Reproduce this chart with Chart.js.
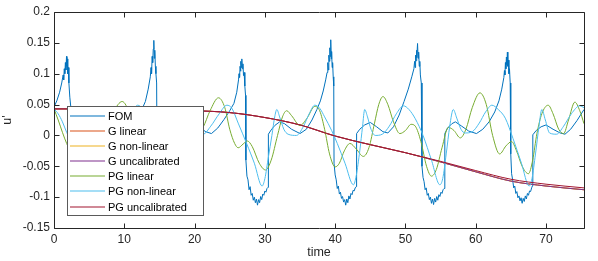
<!DOCTYPE html>
<html>
<head>
<meta charset="utf-8">
<script src="https://cdn.jsdelivr.net/npm/chart.js@4.4.0/dist/chart.umd.min.js"></script>
<style>
html, body { margin: 0; padding: 0; background: #fff; }
#wrap { width: 598px; height: 261px; }
</style>
</head>
<body>
<div id="wrap"><canvas id="chart" width="598" height="261"></canvas></div>
<script>
// axis ticks
const xTicks = [0, 10, 20, 30, 40, 50, 60, 70];
const xMax = 75.4;
const yTicks = [-0.15, -0.1, -0.05, 0, 0.05, 0.1, 0.15, 0.2];
const yTickLabels = ['-0.15', '-0.1', '-0.05', '0', '0.05', '0.1', '0.15', '0.2'];

const seriesNames = ['FOM', 'G linear', 'G non-linear', 'G uncalibrated', 'PG linear', 'PG non-linear', 'PG uncalibrated'];

// full order model, [time, u']
const fomData = [
  [0,0.046],[0.4,0.056],[0.8,0.07],[1.1,0.085],[1.3,0.098],[1.38,0.09],[1.46,0.108],[1.54,0.1],[1.62,0.118],[1.7,0.106],[1.78,0.128],[1.84,0.112],[1.9,0.124],[1.96,0.1],[2.04,0.11],[2.12,0.085],[2.25,0.062],[2.4,0.045],[2.5,-0.04],
  [2.7,-0.066],[2.9,-0.075],[3.1,-0.088],[3.3,-0.086],[3.5,-0.097],[3.7,-0.1],[3.9,-0.108],[4.1,-0.104],[4.3,-0.11],[4.5,-0.101],[4.7,-0.106],[4.9,-0.096],[5.1,-0.098],[5.3,-0.09],[5.5,-0.086],
  [5.6,0.0],[6.0,0.009],[6.6,0.017],[7.3,0.021],[8.0,0.017],[9.0,0.008],[10.1,0.003],[11.0,0.012],[11.8,0.028],[12.5,0.042],[13.0,0.055],[13.4,0.075],[13.7,0.095],
  [13.8,0.11],[13.88,0.1],[13.96,0.128],[14.04,0.118],[14.12,0.14],[14.2,0.154],[14.27,0.125],[14.34,0.138],[14.42,0.112],[14.5,0.1],[14.6,0.085],[14.66,-0.045],
  [14.85,-0.068],[15.05,-0.076],[15.25,-0.09],[15.45,-0.087],[15.65,-0.099],[15.85,-0.102],[16.05,-0.11],[16.25,-0.105],[16.45,-0.112],[16.65,-0.103],[16.85,-0.108],[17.05,-0.098],[17.25,-0.1],[17.45,-0.092],[17.7,-0.088],[17.9,-0.084],
  [18.0,0.0],[18.5,0.01],[19.2,0.018],[20.0,0.021],[20.8,0.012],[21.6,0.006],[22.4,0.003],[23.3,0.012],[24.2,0.026],[25.0,0.04],[25.6,0.052],[26.0,0.07],[26.25,0.09],
  [26.32,0.1],[26.4,0.094],[26.47,0.112],[26.54,0.104],[26.6,0.12],[26.66,0.11],[26.72,0.124],[26.8,0.108],[26.88,0.116],[26.96,0.097],[27.05,0.102],[27.15,0.08],[27.25,0.065],[27.3,-0.04],
  [27.45,-0.066],[27.6,-0.072],[27.75,-0.088],[27.9,-0.083],[28.05,-0.097],[28.2,-0.094],[28.35,-0.105],[28.5,-0.1],[28.65,-0.109],[28.8,-0.103],[28.95,-0.113],[29.1,-0.104],[29.25,-0.109],[29.4,-0.099],[29.55,-0.104],[29.7,-0.095],[29.85,-0.097],[30.0,-0.09],[30.15,-0.092],[30.3,-0.086],[30.45,-0.084],
  [30.5,0.002],[30.9,0.009],[31.4,0.016],[32.1,0.022],[32.8,0.019],[33.8,0.01],[35.0,0.003],[35.9,0.01],[36.7,0.025],[37.4,0.042],[37.9,0.056],[38.3,0.072],[38.65,0.09],[38.85,0.102],
  [38.95,0.118],[39.03,0.106],[39.1,0.13],[39.17,0.12],[39.24,0.142],[39.3,0.128],[39.37,0.155],[39.44,0.124],[39.5,0.136],[39.57,0.11],[39.64,0.118],[39.72,0.095],[39.8,0.08],[39.84,-0.045],
  [40.0,-0.064],[40.15,-0.072],[40.3,-0.086],[40.45,-0.082],[40.6,-0.095],[40.75,-0.092],[40.9,-0.102],[41.05,-0.099],[41.2,-0.108],[41.35,-0.104],[41.5,-0.113],[41.65,-0.103],[41.8,-0.109],[41.95,-0.098],[42.1,-0.103],[42.25,-0.094],[42.4,-0.096],[42.55,-0.089],[42.7,-0.09],[42.85,-0.085],[42.98,-0.083],
  [43.05,0.003],[43.5,0.01],[44.2,0.017],[45.0,0.021],[45.9,0.014],[46.8,0.006],[47.5,0.004],[48.3,0.014],[49.1,0.033],[49.8,0.055],[50.4,0.075],[50.9,0.095],[51.2,0.108],
  [51.3,0.12],[51.37,0.11],[51.44,0.13],[51.5,0.121],[51.57,0.138],[51.64,0.126],[51.72,0.149],[51.8,0.125],[51.88,0.135],[51.96,0.112],[52.04,0.12],[52.12,0.098],[52.25,0.085],[52.35,-0.05],
  [52.5,-0.068],[52.65,-0.075],[52.8,-0.088],[52.95,-0.085],[53.1,-0.097],[53.25,-0.094],[53.4,-0.104],[53.55,-0.1],[53.7,-0.11],[53.85,-0.103],[54.0,-0.112],[54.15,-0.102],[54.3,-0.108],[54.45,-0.099],[54.6,-0.105],[54.75,-0.096],[54.9,-0.099],[55.05,-0.092],[55.2,-0.094],[55.35,-0.088],[55.5,-0.086],
  [55.6,0.003],[56.0,0.012],[56.6,0.019],[57.1,0.022],[58.0,0.015],[59.0,0.007],[60.1,0.003],[61.0,0.01],[61.9,0.022],[62.7,0.038],[63.3,0.056],[63.7,0.075],[64.0,0.094],
  [64.08,0.105],[64.15,0.098],[64.22,0.118],[64.29,0.108],[64.36,0.127],[64.43,0.115],[64.5,0.135],[64.57,0.112],[64.64,0.122],[64.72,0.1],[64.8,0.108],[64.9,0.085],[64.98,-0.03],
  [65.1,-0.062],[65.25,-0.072],[65.4,-0.085],[65.55,-0.082],[65.7,-0.094],[65.85,-0.091],[66.0,-0.101],[66.15,-0.098],[66.3,-0.106],[66.45,-0.101],[66.6,-0.11],[66.75,-0.102],[66.9,-0.107],[67.05,-0.098],[67.2,-0.103],[67.35,-0.094],[67.5,-0.097],[67.65,-0.09],[67.8,-0.091],[67.95,-0.085],[68.05,-0.082],
  [68.12,0.001],[68.6,0.008],[69.3,0.014],[70.0,0.017],[71.0,0.01],[72.0,0.004],[72.7,0.002],[73.5,0.01],[74.4,0.024],[75.4,0.042]
];

// uncalibrated models (G linear / non-linear sit under G uncalibrated)
const uncTime = [0, 5, 10, 15, 20, 25, 30, 35, 40, 45, 50, 55, 60, 65, 70, 75.4];
const gLinear    = [0.043, 0.043, 0.042, 0.041, 0.040, 0.037, 0.029, 0.017, -0.001, -0.015, -0.028, -0.043, -0.059, -0.074, -0.082, -0.088];
const gNonLinear = [0.043, 0.043, 0.042, 0.041, 0.040, 0.037, 0.029, 0.017, -0.001, -0.015, -0.028, -0.043, -0.059, -0.074, -0.082, -0.088];
const gUncal     = [0.043, 0.043, 0.042, 0.041, 0.040, 0.037, 0.029, 0.017, -0.001, -0.015, -0.028, -0.043, -0.059, -0.074, -0.082, -0.088];
const pgUncal    = [0.043, 0.043, 0.042, 0.041, 0.040, 0.037, 0.029, 0.017, -0.001, -0.015, -0.028, -0.042, -0.057, -0.071, -0.079, -0.085];

const pgLinearData = [
  [0,0.043],[0.6,0.025],[1.2,0.005],[1.8,-0.013],[2.5,-0.03],[3.5,-0.05],[4.5,-0.055],[5.5,-0.035],[6.5,-0.005],[7.5,0.02],[8.5,0.04],[9.7,0.055],[10.8,0.035],
  [11.8,0.0],[12.8,-0.03],[13.8,-0.04],[14.8,-0.03],[15.8,-0.035],[16.8,-0.05],[17.8,-0.045],[18.8,-0.02],[19.8,0.0],[20.5,0.005],[21.2,0.013],[22.2,0.04],[23.4,0.061],
  [24.3,0.045],[25.0,0.01],[25.7,-0.013],[26.2,-0.02],[26.9,-0.014],[27.5,-0.009],[28.2,-0.018],[29.2,-0.045],[30.1,-0.056],[30.9,-0.04],[31.8,0.0],[32.5,0.03],[33.1,0.04],
  [33.8,0.032],[35.0,0.016],[36.0,0.028],[37.1,0.047],[37.8,0.04],[38.5,0.01],[39.2,-0.03],[40.0,-0.051],[40.6,-0.045],[41.3,-0.025],[42.1,-0.013],[43.0,-0.022],[44.0,-0.034],
  [44.8,-0.02],[45.6,0.02],[46.2,0.05],[46.8,0.063],[47.5,0.05],[48.3,0.022],[49.2,0.003],[50.0,0.008],[50.8,0.018],[51.4,0.015],[52.2,-0.01],[53.0,-0.05],[53.7,-0.066],
  [54.4,-0.055],[55.2,-0.02],[56.1,0.013],[56.9,0.008],[57.8,-0.004],[58.6,0.01],[59.5,0.045],[60.6,0.069],[61.5,0.05],[62.4,0.0],[63.4,-0.03],[64.3,-0.017],[65.1,-0.01],
  [65.8,-0.025],[66.6,-0.05],[67.5,-0.062],[68.1,-0.04],[68.7,0.003],[69.4,0.035],[70.3,0.049],[71.0,0.035],[71.8,0.01],[72.5,0.003],[73.2,0.025],[74.1,0.054],[74.8,0.04],[75.4,0.019]
];

const pgNonLinearData = [
  [0,0.043],[0.6,0.035],[1.2,0.022],[1.8,0.005],[2.5,-0.012],[3.5,-0.04],[4.5,-0.07],[5.0,-0.08],[5.4,-0.07],[5.8,-0.035],[6.2,0.005],[6.6,0.04],[6.9,0.03],[7.3,0.01],
  [7.9,0.0],[9.0,0.0],[10.0,0.015],[11.0,0.035],[11.9,0.049],[12.6,0.043],[13.5,0.025],[15.0,-0.01],[16.5,-0.05],[17.3,-0.08],[17.8,-0.06],[18.3,-0.02],[18.8,0.02],
  [19.2,0.042],[19.6,0.025],[20.2,0.006],[21.2,0.002],[22.3,0.015],[23.5,0.035],[24.6,0.049],[25.3,0.044],[26.2,0.02],[27.4,-0.013],[28.5,-0.045],[29.6,-0.082],[30.0,-0.07],
  [30.5,-0.035],[31.0,0.0],[31.4,0.03],[31.7,0.042],[32.1,0.03],[32.7,0.01],[33.3,0.002],[34.5,0.0],[35.5,0.015],[36.3,0.035],[37.1,0.049],[37.8,0.044],[38.5,0.03],
  [39.5,0.008],[40.3,-0.013],[41.4,-0.045],[42.6,-0.08],[43.0,-0.065],[43.5,-0.025],[43.9,0.015],[44.2,0.042],[44.6,0.03],[45.1,0.01],[45.7,0.0],[46.7,0.002],[47.7,0.015],
  [48.7,0.035],[49.7,0.048],[50.5,0.042],[51.4,0.027],[52.5,0.0],[53.7,-0.04],[54.9,-0.08],[55.3,-0.07],[55.8,-0.03],[56.3,0.015],[56.8,0.042],[57.3,0.028],[57.9,0.01],
  [58.5,0.004],[59.5,0.006],[60.5,0.02],[61.4,0.038],[62.3,0.049],[63.2,0.042],[64.2,0.028],[65.3,-0.005],[66.5,-0.045],[67.6,-0.082],[68.0,-0.07],[68.5,-0.03],[69.0,0.015],
  [69.4,0.042],[69.9,0.025],[70.5,0.004],[71.5,0.002],[72.5,0.015],[73.6,0.035],[74.8,0.048],[75.4,0.045]
];

const colors = ['#0072BD', '#D95319', '#EDB120', '#7E2F8E', '#77AC30', '#4DBEEE', '#A2142F'];
const axisColor = '#262626';
const fontFamily = '"Liberation Sans", Arial, Helvetica, sans-serif';

const pairs = arr => arr.map(p => ({ x: p[0], y: p[1] }));
const onTime = vals => vals.map((v, i) => ({ x: uncTime[i], y: v }));

const seriesData = [
  pairs(fomData),
  onTime(gLinear),
  onTime(gNonLinear),
  onTime(gUncal),
  pairs(pgLinearData),
  pairs(pgNonLinearData),
  onTime(pgUncal)
];

const datasets = seriesData.map((data, i) => ({
  label: seriesNames[i],
  data: data,
  borderColor: colors[i],
  backgroundColor: colors[i],
  borderWidth: 1,
  pointRadius: 0,
  fill: false,
  cubicInterpolationMode: i === 0 ? 'default' : 'monotone',
  tension: i === 0 ? 0 : 0.4,
  order: seriesNames.length - i   // later series drawn on top, like MATLAB
}));

// box, inward ticks and legend inside the axes
const matlabAxes = {
  id: 'matlabAxes',
  afterDraw(chart) {
    const { ctx, chartArea: a, scales } = chart;
    const L = Math.round(a.left) + 0.5, R = Math.round(a.right) + 0.5;
    const T = Math.round(a.top) + 0.5, B = Math.round(a.bottom) + 0.5;
    ctx.save();
    ctx.strokeStyle = axisColor;
    ctx.lineWidth = 1;
    ctx.beginPath();
    ctx.rect(L, T, R - L, B - T);
    scales.x.ticks.forEach(t => {
      const px = Math.round(scales.x.getPixelForValue(t.value)) + 0.5;
      ctx.moveTo(px, B); ctx.lineTo(px, B - 5);
      ctx.moveTo(px, T); ctx.lineTo(px, T + 5);
    });
    scales.y.ticks.forEach(t => {
      const py = Math.round(scales.y.getPixelForValue(t.value)) + 0.5;
      ctx.moveTo(L, py); ctx.lineTo(L + 5, py);
      ctx.moveTo(R, py); ctx.lineTo(R - 5, py);
    });
    ctx.stroke();

    // legend (southwest)
    const w = 136, h = 109;
    const lx = Math.round(a.left) + 13, ly = Math.round(a.bottom) - 13 - h;
    ctx.fillStyle = '#ffffff';
    ctx.fillRect(lx, ly, w, h);
    ctx.strokeStyle = '#5a5a5a';
    ctx.strokeRect(lx + 0.5, ly + 0.5, w, h);
    ctx.font = '11px ' + fontFamily;
    ctx.textBaseline = 'middle';
    ctx.textAlign = 'left';
    seriesNames.forEach((name, i) => {
      const y = Math.round(ly + 9.5 + i * 15.17);
      ctx.strokeStyle = colors[i];
      ctx.lineWidth = 1.2;
      ctx.beginPath();
      ctx.moveTo(lx + 3, y);
      ctx.lineTo(lx + 38, y);
      ctx.stroke();
      ctx.fillStyle = '#000000';
      ctx.fillText(name, lx + 41, y + 0.5);
    });
    ctx.restore();
  }
};

new Chart(document.getElementById('chart'), {
  type: 'line',
  data: { datasets: datasets },
  options: {
    responsive: false,
    animation: false,
    events: [],
    layout: { padding: { top: 12, right: 14, left: 0, bottom: 0 } },
    plugins: { legend: { display: false }, tooltip: { enabled: false } },
    scales: {
      x: {
        type: 'linear',
        min: 0,
        max: xMax,
        afterBuildTicks: s => { s.ticks = xTicks.map(v => ({ value: v })); },
        afterFit: s => { s.height = 33; },
        grid: { display: false, drawTicks: false },
        border: { display: false },
        ticks: { padding: 4, autoSkip: false, maxRotation: 0, color: axisColor, font: { family: fontFamily, size: 12 } },
        title: { display: true, text: 'time', color: axisColor, padding: { top: 0, bottom: 1 }, font: { family: fontFamily, size: 12.5 } }
      },
      y: {
        type: 'linear',
        min: -0.15,
        max: 0.2,
        afterBuildTicks: s => { s.ticks = yTicks.map(v => ({ value: v })); },
        afterFit: s => { s.width = 54; },
        grid: { display: false, drawTicks: false },
        border: { display: false },
        ticks: {
          padding: 4,
          color: axisColor,
          font: { family: fontFamily, size: 12 },
          callback: v => yTickLabels[yTicks.indexOf(v)]
        },
        title: { display: true, text: "u'", color: axisColor, padding: 0, font: { family: fontFamily, size: 12.5 } }
      }
    }
  },
  plugins: [matlabAxes]
});
</script>
</body>
</html>
